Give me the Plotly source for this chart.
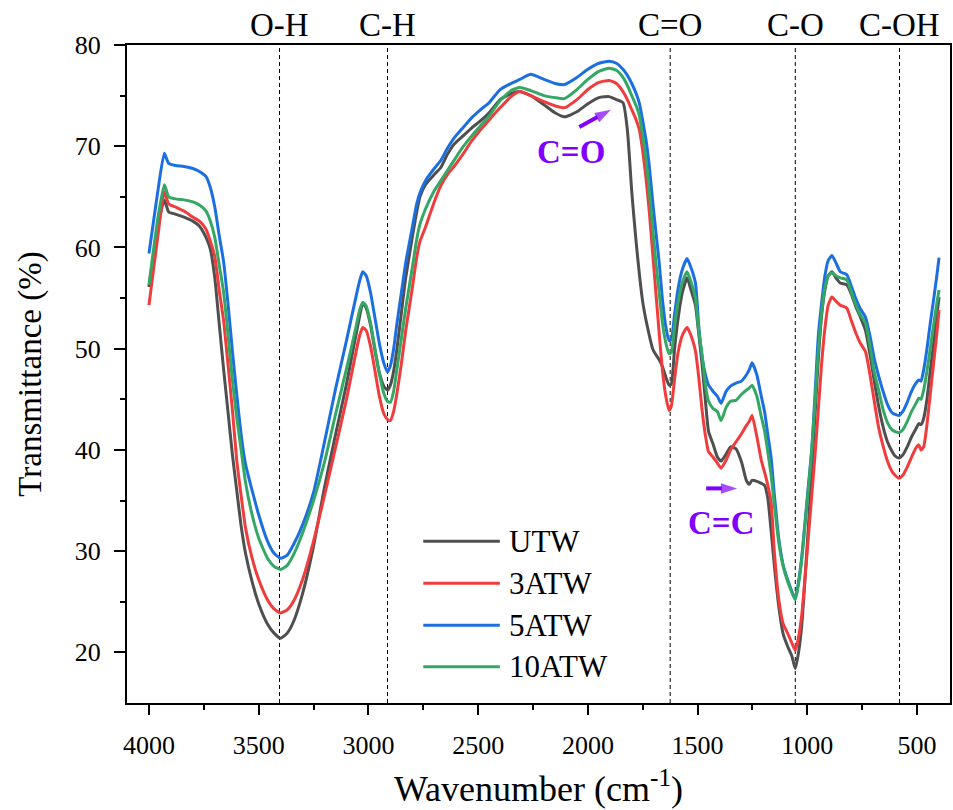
import plotly.graph_objects as go

# ---------------- data ----------------
wavenumber = [4000, 3960, 3930, 3910, 3880, 3840, 3800, 3770, 3740, 3720, 3700, 3680, 3660, 3640, 3620,
              3600, 3580, 3560, 3530, 3500, 3460, 3430, 3400, 3370, 3340, 3300, 3250, 3200, 3150, 3100,
              3060, 3040, 3026, 3010, 2990, 2970, 2950, 2930, 2913, 2900, 2885, 2870, 2850, 2830, 2800,
              2780, 2765, 2740, 2700, 2670, 2640, 2610, 2570, 2530, 2490, 2450, 2400, 2350, 2310, 2260,
              2200, 2150, 2107, 2050, 2000, 1950, 1903, 1870, 1840, 1820, 1800, 1780, 1765, 1750, 1735,
              1720, 1705, 1690, 1675, 1660, 1645, 1630, 1620, 1605, 1590, 1570, 1548, 1530, 1510, 1495,
              1480, 1465, 1450, 1430, 1410, 1393, 1370, 1350, 1325, 1300, 1278, 1265, 1252, 1230, 1210,
              1195, 1180, 1165, 1150, 1130, 1110, 1090, 1070, 1055, 1040, 1025, 1010, 995, 980, 965,
              950, 935, 920, 905, 888, 870, 850, 820, 800, 780, 760, 735, 715, 695, 675,
              655, 635, 615, 600, 583, 565, 545, 525, 505, 492, 482, 470, 455, 440, 425,
              410, 400]

utw = [56.1, 62.0, 64.7, 63.5, 63.3, 63.0, 62.6, 62.1, 61.0, 59.8, 57.0, 52.5, 48.0, 43.8, 39.6,
       36.0, 32.5, 29.8, 27.0, 24.8, 22.8, 21.9, 21.4, 21.9, 23.1, 25.8, 30.5, 36.3, 41.5, 46.5,
       51.0, 53.2, 54.5, 54.0, 52.3, 49.8, 47.6, 46.3, 45.9, 46.4, 47.8, 50.0, 53.5, 57.0, 61.0,
       63.5, 65.0, 66.2, 67.2, 67.9, 69.2, 70.2, 71.0, 71.8, 72.5, 73.3, 74.6, 75.2, 75.4, 75.0,
       74.1, 73.3, 72.9, 73.4, 74.2, 74.8, 74.9, 74.6, 74.3, 71.6, 65.5, 60.5, 57.3, 54.6, 52.8,
       51.3, 50.0, 49.4, 48.9, 48.2, 47.2, 46.4, 46.5, 50.0, 52.8, 55.5, 57.0, 55.8, 54.3, 51.5,
       48.5, 45.0, 41.8, 40.6, 39.3, 38.9, 39.6, 40.3, 40.1, 38.8, 37.0, 36.6, 37.0, 36.9, 36.7,
       36.5, 35.2, 32.0, 28.5, 24.5, 21.8, 20.6, 19.6, 18.4, 20.0, 22.8, 27.5, 32.5, 38.0, 43.5,
       49.0, 53.3, 55.8, 57.2, 57.6, 57.0, 56.5, 56.3, 55.4, 54.2, 53.2, 51.8, 49.5, 46.8, 44.3,
       42.3, 40.8, 39.9, 39.4, 39.2, 39.5, 40.3, 41.3, 42.1, 42.6, 42.5, 43.1, 45.0, 47.8, 50.5,
       53.2, 55.1]

atw3 = [54.3, 61.0, 65.5, 64.3, 64.0, 63.6, 63.0, 62.6, 61.8, 60.6, 59.1, 55.8, 52.8, 48.5, 44.0,
        39.0, 35.5, 32.3, 29.3, 27.2, 25.2, 24.3, 23.9, 24.2, 25.1, 27.2, 31.0, 35.5, 40.2, 45.0,
        49.3, 51.3, 52.1, 51.8, 50.2, 47.8, 45.3, 43.6, 43.0, 42.9, 43.8, 45.6, 48.5, 51.8, 56.0,
        59.0, 60.6, 62.0, 64.5, 66.1, 67.2, 68.0, 69.2, 70.5, 71.6, 72.6, 73.8, 74.9, 75.4, 75.0,
        74.4, 74.0, 73.8, 74.6, 75.6, 76.3, 76.5, 76.2, 75.4, 74.6, 73.6, 72.6, 71.6, 69.5, 66.8,
        63.5, 59.5, 55.5, 51.5, 47.8, 45.3, 43.9, 44.3, 47.0, 49.5, 51.3, 52.1, 51.3, 49.8, 47.2,
        44.0, 41.5, 39.8, 39.3, 38.7, 38.2, 39.0, 40.0, 40.8, 41.6, 42.4, 42.8, 43.4, 41.3, 39.0,
        37.8, 36.5, 34.8, 29.8, 25.2, 22.8, 21.9, 20.9, 20.2, 21.5, 23.8, 27.5, 31.5, 35.5, 39.5,
        44.0, 48.5, 52.0, 54.3, 55.1, 54.7, 54.3, 54.0, 52.8, 51.6, 50.6, 49.7, 47.5, 44.8, 42.2,
        40.4, 38.9, 37.9, 37.5, 37.2, 37.5, 38.3, 39.3, 40.2, 40.5, 40.0, 40.3, 42.5, 45.5, 48.5,
        51.5, 53.8]

atw5 = [59.4, 65.5, 69.3, 68.3, 68.1, 68.0, 67.8, 67.5, 67.0, 65.9, 64.0, 61.2, 58.6, 54.5, 49.8,
        45.5, 41.5, 38.6, 36.0, 33.6, 31.0, 29.8, 29.3, 29.6, 30.7, 32.6, 35.8, 40.8, 46.0, 50.8,
        54.8, 56.7, 57.6, 57.2, 55.5, 53.0, 50.5, 48.6, 47.7, 48.3, 50.0, 52.5, 55.5, 58.5, 62.0,
        64.3, 65.4, 66.6, 67.8, 68.6, 69.8, 70.8, 71.8, 72.8, 73.6, 74.3, 75.6, 76.2, 76.6, 77.1,
        76.6, 76.2, 76.1, 76.8, 77.6, 78.2, 78.4, 78.2, 77.6, 77.0, 76.2, 75.2, 74.2, 72.5, 70.6,
        68.0, 64.6, 61.5, 58.5, 54.8, 52.2, 50.8, 50.9, 53.4, 55.8, 57.8, 58.9, 58.0, 56.5, 52.3,
        49.2, 47.5, 46.4, 45.8, 45.3, 44.6, 45.8, 46.3, 46.6, 46.8, 47.4, 47.9, 48.6, 47.4, 45.3,
        43.8, 41.5, 39.2, 35.5, 31.2, 28.6, 27.2, 26.0, 25.3, 27.0, 29.5, 33.0, 36.5, 40.0, 45.5,
        51.3, 54.5, 57.2, 58.7, 59.2, 58.5, 57.6, 57.3, 56.2, 55.0, 54.0, 53.1, 51.3, 49.0, 47.3,
        45.8, 44.5, 43.7, 43.5, 43.4, 43.8, 44.7, 45.8, 46.6, 46.9, 46.8, 47.9, 50.0, 52.5, 54.8,
        57.2, 59.0]

atw10 = [56.3, 62.8, 66.2, 65.0, 64.8, 64.7, 64.5, 64.2, 63.6, 62.6, 61.0, 58.3, 55.6, 51.5, 47.0,
         43.2, 40.0, 36.8, 33.6, 31.3, 29.3, 28.5, 28.2, 28.6, 29.7, 31.8, 35.0, 38.8, 43.5, 48.0,
         51.8, 53.8, 54.6, 54.2, 52.5, 50.0, 47.5, 45.6, 44.8, 44.7, 45.8, 48.0, 51.0, 54.0, 58.0,
         60.8, 62.3, 63.8, 65.6, 66.6, 67.6, 68.6, 69.9, 71.0, 72.0, 73.0, 74.5, 75.5, 75.8, 75.5,
         75.0, 74.8, 74.7, 75.6, 76.6, 77.4, 77.7, 77.5, 76.8, 76.0, 75.0, 74.0, 73.0, 71.0, 68.7,
         65.5, 62.0, 58.5, 55.5, 52.5, 50.6, 49.5, 49.6, 52.2, 54.5, 56.5, 57.6, 56.6, 55.0, 51.8,
         49.5, 46.5, 44.8, 44.1, 43.8, 42.9, 44.2, 44.8, 44.9, 45.5, 45.9, 46.1, 46.4, 45.3, 43.3,
         41.9, 39.8, 37.5, 34.5, 30.8, 28.5, 27.0, 25.9, 25.2, 26.8, 29.3, 32.8, 36.3, 40.0, 44.8,
         49.8, 53.5, 56.0, 57.2, 57.5, 57.2, 57.0, 56.8, 55.6, 54.4, 53.4, 52.5, 50.3, 47.7, 45.9,
         44.0, 42.7, 42.0, 41.8, 41.7, 42.0, 42.8, 43.8, 44.6, 45.1, 45.0, 45.9, 47.8, 50.0, 52.3,
         54.5, 55.8]

series_names = ["UTW", "3ATW", "5ATW", "10ATW"]
series_values = [utw, atw3, atw5, atw10]
series_colors = ["#4f4f4f", "#f03c3c", "#1b6fe0", "#34a765"]

band_positions = [3405, 2913, 1625, 1055, 580]
band_labels = ["O-H", "C-H", "C=O", "C-O", "C-OH"]

x_ticks = [4000, 3500, 3000, 2500, 2000, 1500, 1000, 500]
y_ticks = [20, 30, 40, 50, 60, 70, 80]

# annotation arrows (tail -> head) and their labels
arrow_co = dict(x=[2039, 1895], y=[71.9, 73.6])
arrow_cc = dict(x=[1461, 1320], y=[36.2, 36.2])

FONT = "Liberation Serif, Times New Roman, serif"
PURPLE = "#7f00ff"

fig = go.Figure()
for name, vals, col in zip(series_names, series_values, series_colors):
    fig.add_trace(go.Scatter(x=wavenumber, y=vals, mode="lines", name=name,
                             line=dict(color=col, width=3, shape="spline", smoothing=0.5),
                             showlegend=False, hoverinfo="skip"))

# purple arrows drawn as short line + arrow marker
for arr in (arrow_co, arrow_cc):
    fig.add_trace(go.Scatter(x=arr["x"], y=arr["y"], mode="lines+markers", showlegend=False,
                             hoverinfo="skip",
                             line=dict(color=PURPLE, width=4),
                             marker=dict(symbol="arrow", size=[0, 17], angleref="previous",
                                         color=PURPLE, line=dict(width=0))))

# dashed band markers and labels above the frame
for pos, lab in zip(band_positions, band_labels):
    fig.add_shape(type="line", xref="x", yref="paper", x0=pos, x1=pos, y0=0, y1=1,
                  line=dict(color="black", width=1, dash="4px,3px"), layer="below")
    fig.add_annotation(x=pos, y=1.0, xref="x", yref="paper", yanchor="bottom", yshift=0,
                       text=lab, showarrow=False, font=dict(family=FONT, size=33, color="black"))

# manual legend (long line samples like the reference)
legend_y = [0.246, 0.182, 0.118, 0.055]
for name, col, ly in zip(series_names, series_colors, legend_y):
    fig.add_shape(type="line", xref="paper", yref="paper", x0=0.360, x1=0.453, y0=ly, y1=ly,
                  line=dict(color=col, width=3))
    fig.add_annotation(x=0.462, y=ly, xref="paper", yref="paper", xanchor="left", yanchor="middle",
                       text=name, showarrow=False, font=dict(family=FONT, size=31, color="black"))

fig.add_annotation(x=2076, y=69.4, xref="x", yref="y", text="<b>C=O</b>", showarrow=False,
                   font=dict(family=FONT, size=33, color=PURPLE))
fig.add_annotation(x=1393, y=32.8, xref="x", yref="y", text="<b>C=C</b>", showarrow=False,
                   font=dict(family=FONT, size=33, color=PURPLE))

fig.update_layout(
    autosize=False,
    width=953, height=810,
    margin=dict(l=127, r=3, t=45, b=107, autoexpand=False),
    paper_bgcolor="white", plot_bgcolor="white",
    font=dict(family=FONT, color="black"),
)
fig.update_xaxes(
    range=[4100, 350], tickvals=x_ticks, ticks="outside", ticklen=10, tickwidth=2,
    tickcolor="black", showline=True, linewidth=2, linecolor="black", mirror=True,
    showgrid=False, zeroline=False, tickfont=dict(family=FONT, size=26),
    ticklabelstandoff=8, automargin=False,
    minor=dict(tickvals=[3750, 3250, 2750, 2250, 1750, 1250, 750], ticks="outside",
               ticklen=5, tickwidth=2, tickcolor="black"),
    title=dict(text="Wavenumber (cm<sup>-1</sup>)", font=dict(family=FONT, size=36), standoff=17),
)
fig.update_yaxes(
    range=[15, 80], tickvals=y_ticks, ticks="outside", ticklen=11, tickwidth=2,
    tickcolor="black", showline=True, linewidth=2, linecolor="black", mirror=True,
    showgrid=False, zeroline=False, tickfont=dict(family=FONT, size=26),
    ticklabelstandoff=8, automargin=False,
    minor=dict(tickvals=[25, 35, 45, 55, 65, 75], ticks="outside",
               ticklen=5, tickwidth=2, tickcolor="black"),
    title=dict(text="Transmittance (%)", font=dict(family=FONT, size=33), standoff=23),
)

# remove the default page margin so the 953x810 figure sits exactly in the window
page_fix = ("document.body.style.margin='0px';"
            "document.documentElement.style.overflow='hidden';")
fig.write_html("out.html", config={"responsive": False, "displayModeBar": False},
               post_script=page_fix)
